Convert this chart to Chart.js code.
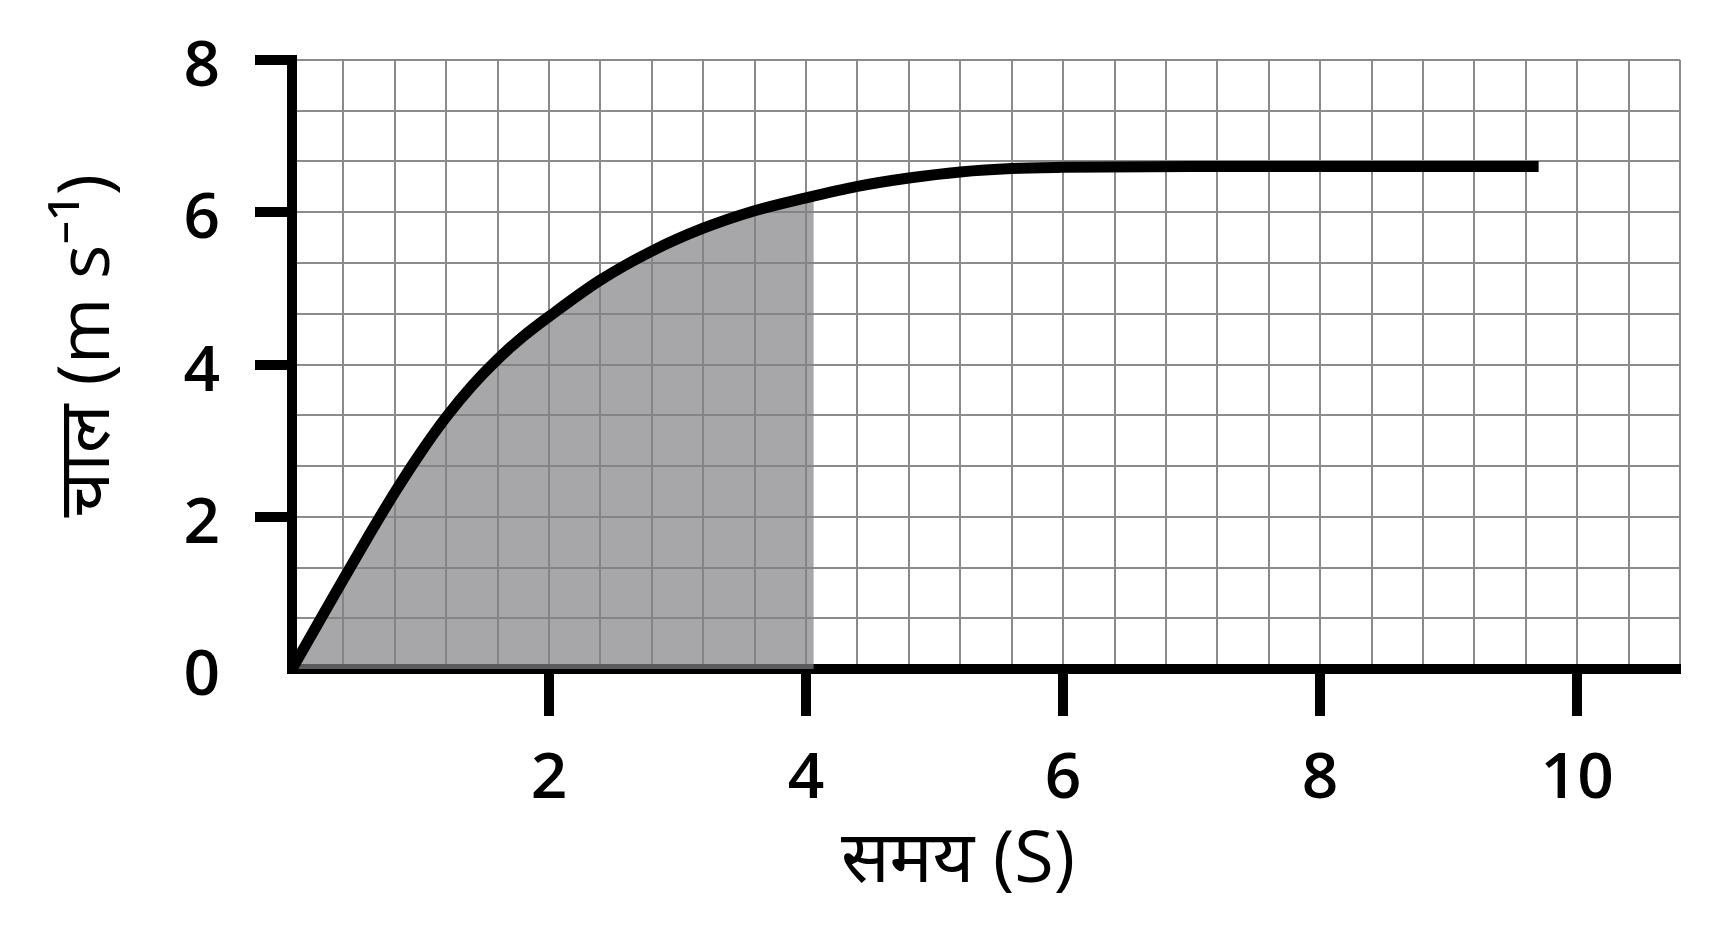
<!DOCTYPE html>
<html>
<head>
<meta charset="utf-8">
<script src="https://cdn.jsdelivr.net/npm/chart.js@4/dist/chart.umd.min.js"></script>
<style>
  html, body { margin: 0; padding: 0; background: #ffffff; }
  canvas { display: block; }
</style>
</head>
<body>
<canvas id="c" width="1718" height="934"></canvas>
<script>
// ---- data ----
const speedTime   = [0, 0.2, 0.4, 0.6, 0.8, 1.0, 1.2, 1.4, 1.6, 1.8, 2.0, 2.4, 2.8, 3.2, 3.6, 4.0, 4.4, 4.8, 5.2, 5.6, 6.0, 7.0, 8.0, 9.0, 9.7];
const speedValues = [0, 0.59, 1.18, 1.76, 2.32, 2.84, 3.31, 3.72, 4.07, 4.37, 4.63, 5.11, 5.49, 5.79, 6.02, 6.19, 6.34, 6.45, 6.53, 6.575, 6.59, 6.60, 6.60, 6.60, 6.60];

// shaded area under the curve, from 0 to about 4 s
const shadeTime   = [0, 0.2, 0.4, 0.6, 0.8, 1.0, 1.2, 1.4, 1.6, 1.8, 2.0, 2.4, 2.8, 3.2, 3.6, 4.0, 4.06];
const shadeValues = [0, 0.59, 1.18, 1.76, 2.32, 2.84, 3.31, 3.72, 4.07, 4.37, 4.63, 5.11, 5.49, 5.79, 6.02, 6.19, 6.21];

const xTickValues = [2, 4, 6, 8, 10];
const xTickLabels = ['2', '4', '6', '8', '10'];
const yTickValues = [0, 2, 4, 6, 8];
const yTickLabels = ['0', '2', '4', '6', '8'];

const xMin = 0, xMax = 10.8, xGridStep = 0.4;
const yMin = 0, yMax = 8, yGridCount = 12;

const xTitle = 'समय (S)';
const yTitle = 'चाल (m s⁻¹)';

// ---- helpers ----
const EPS = 1e-6;
function labelFor(v, values, labels) {
  for (let i = 0; i < values.length; i++) if (Math.abs(values[i] - v) < EPS) return labels[i];
  return '';
}
function xGrid() {
  const n = Math.round((xMax - xMin) / xGridStep);
  const out = [];
  for (let k = 0; k <= n; k++) out.push({ value: +(xMin + k * xGridStep).toFixed(6) });
  return out;
}
function yGrid() {
  const out = [];
  for (let k = 0; k <= yGridCount; k++) out.push({ value: yMin + k * (yMax - yMin) / yGridCount });
  return out;
}
const pts = (xs, ys) => xs.map((x, i) => ({ x: x, y: ys[i] }));

const tickFont = { family: "'Open Sans', 'Noto Sans', sans-serif", size: 64, weight: 600, lineHeight: 1.2 };
const titleFont = { family: "'Open Sans', 'Noto Sans', 'Noto Sans Devanagari', sans-serif", size: 72, weight: 400, lineHeight: 1.2 };
const gridColor = '#8a8b8e';

new Chart(document.getElementById('c'), {
  type: 'line',
  data: {
    datasets: [
      {
        data: pts(speedTime, speedValues),
        borderColor: '#000000',
        borderWidth: 11,
        borderCapStyle: 'butt',
        cubicInterpolationMode: 'monotone',
        pointRadius: 0,
        fill: false
      },
      {
        data: pts(shadeTime, shadeValues),
        borderWidth: 0,
        borderColor: 'rgba(0,0,0,0)',
        backgroundColor: 'rgba(129,130,134,0.7)',
        pointRadius: 0,
        cubicInterpolationMode: 'monotone',
        fill: 'origin'
      }
    ]
  },
  options: {
    responsive: false,
    devicePixelRatio: 1,
    animation: false,
    layout: { padding: { left: 0, right: 38, top: 60, bottom: 0 } },
    plugins: { legend: { display: false }, tooltip: { enabled: false } },
    scales: {
      x: {
        type: 'linear',
        min: xMin, max: xMax,
        afterBuildTicks: (s) => { s.ticks = xGrid(); },
        afterFit: (s) => { s.height = 265; s.paddingLeft = 0; s.paddingRight = 0; },
        ticks: {
          autoSkip: false, maxRotation: 0, minRotation: 0,
          padding: 25,
          color: '#000000',
          font: tickFont,
          callback: (v) => labelFor(v, xTickValues, xTickLabels)
        },
        grid: {
          color: gridColor,
          lineWidth: 2,
          drawTicks: true,
          tickLength: 47,
          tickWidth: 10,
          tickColor: (ctx) => (ctx.tick && labelFor(ctx.tick.value, xTickValues, xTickLabels) !== '') ? '#000000' : 'rgba(0,0,0,0)'
        },
        border: { display: true, color: '#000000', width: 10 },
        title: {
          display: true,
          text: xTitle + '   ',
          color: '#000000',
          font: titleFont,
          padding: { top: 0, bottom: 29 }
        }
      },
      y: {
        type: 'linear',
        min: yMin, max: yMax,
        afterBuildTicks: (s) => { s.ticks = yGrid(); },
        afterFit: (s) => { s.width = 292; s.paddingTop = 0; s.paddingBottom = 0; },
        ticks: {
          autoSkip: false,
          padding: 35,
          labelOffset: 8,
          color: '#000000',
          font: tickFont,
          callback: (v) => labelFor(v, yTickValues, yTickLabels)
        },
        grid: {
          color: gridColor,
          lineWidth: 2,
          drawTicks: true,
          tickLength: 37,
          tickWidth: 10,
          tickColor: (ctx) => (ctx.tick && ctx.tick.value > EPS && labelFor(ctx.tick.value, yTickValues, yTickLabels) !== '') ? '#000000' : 'rgba(0,0,0,0)'
        },
        border: { display: true, color: '#000000', width: 10 },
        title: {
          display: true,
          text: '  ' + yTitle,
          color: '#000000',
          font: titleFont,
          padding: { top: 45, bottom: 0 }
        }
      }
    }
  }
});
</script>
</body>
</html>
